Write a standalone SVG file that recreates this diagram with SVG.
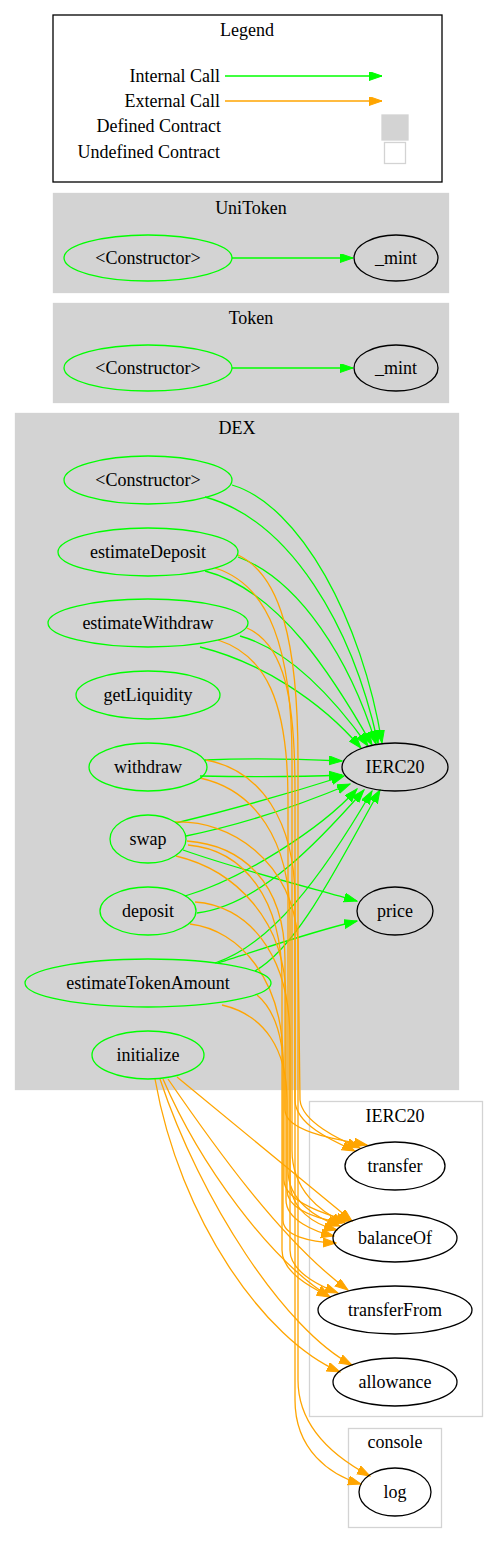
<svg xmlns="http://www.w3.org/2000/svg" width="498" height="1544" viewBox="0 0 498 1544" font-family="'Liberation Serif', 'Times New Roman', Times, serif" font-size="18">
<style>
text{font-family:'Liberation Serif','Times New Roman',Times,serif;font-size:18px;fill:#000}
.c{text-anchor:middle}
.r{text-anchor:end}
.def{fill:#d3d3d3;stroke:#d3d3d3;stroke-width:1.3}
.undef{fill:#fff;stroke:#d3d3d3;stroke-width:1.3}
.fn{fill:none;stroke:#00ff00;stroke-width:1.3}
.ext{fill:none;stroke:#000;stroke-width:1.3}
.g{fill:none;stroke:#00ff00;stroke-width:1.3;marker-end:url(#ag)}
.o{fill:none;stroke:#ffa500;stroke-width:1.3;marker-end:url(#ao)}
</style>
<defs>
<marker id="ag" markerUnits="userSpaceOnUse" markerWidth="14" markerHeight="10" refX="13" refY="4.5" orient="auto"><path d="M0,0 L13,4.5 L0,9 z" fill="#00ff00" stroke="#00ff00" stroke-width="1"/></marker>
<marker id="ao" markerUnits="userSpaceOnUse" markerWidth="14" markerHeight="10" refX="13" refY="4.5" orient="auto"><path d="M0,0 L13,4.5 L0,9 z" fill="#ffa500" stroke="#ffa500" stroke-width="1"/></marker>
</defs>
<rect width="498" height="1544" fill="#fff"/>

<g id="legend">
<rect x="53" y="15" width="389" height="167" fill="#fff" stroke="#000" stroke-width="1.3"/>
<text class="c" x="247" y="36">Legend</text>
<text class="r" x="220" y="82">Internal Call</text>
<text class="r" x="220" y="107">External Call</text>
<text class="r" x="221" y="132">Defined Contract</text>
<text class="r" x="220" y="158">Undefined Contract</text>
<line x1="225" y1="76" x2="382" y2="76" class="g"/>
<line x1="225" y1="101" x2="382" y2="101" class="o"/>
<rect x="382" y="115" width="26" height="25" class="def"/>
<rect x="384.5" y="142.5" width="21" height="21" class="undef"/>
</g>

<g id="cluster_UniToken">
<rect x="53.5" y="193.5" width="395" height="99" class="def"/>
<text class="c" x="251" y="214">UniToken</text>
</g>
<g id="cluster_Token">
<rect x="53.5" y="303.5" width="395" height="99" class="def"/>
<text class="c" x="251" y="324">Token</text>
</g>
<g id="cluster_DEX">
<rect x="15.5" y="413.5" width="443" height="676" class="def"/>
<text class="c" x="237" y="434">DEX</text>
</g>
<g id="cluster_IERC20">
<rect x="309.5" y="1101.5" width="173" height="315" class="undef"/>
<text class="c" x="395" y="1122">IERC20</text>
</g>
<g id="cluster_console">
<rect x="348.5" y="1428.5" width="93" height="99" class="undef"/>
<text class="c" x="395" y="1448">console</text>
</g>

<g id="connectors">
<path class="g" d="M232,258 L353,258"/>
<path class="g" d="M232,368 L353,368"/>

<path class="g" d="M232,485 C300,505 362,620 382,743"/>
<path class="g" d="M205,497 C290,520 352,625 378,743"/>
<path class="g" d="M238,557 C300,580 350,660 376,744"/>
<path class="g" d="M205,571 C280,590 335,680 372,745"/>
<path class="g" d="M240,636 C290,650 335,700 368,746"/>
<path class="g" d="M200,647 C260,662 320,700 361,748"/>
<path class="g" d="M205,760 C250,758 300,759 342,761"/>
<path class="g" d="M200,776 C250,777 300,777 342,775"/>
<path class="g" d="M176,823 C230,810 300,790 344,776"/>
<path class="g" d="M186,836 C240,825 300,805 350,784"/>
<path class="g" d="M183,850 C240,870 300,885 357,901"/>
<path class="g" d="M185,896 C240,880 320,830 357,789"/>
<path class="g" d="M197,913 C260,905 320,840 364,790"/>
<path class="g" d="M215,963 C270,945 320,880 372,791"/>
<path class="g" d="M255,971 C300,945 340,860 380,790"/>
<path class="g" d="M218,963 C260,950 310,932 357,921"/>

<path class="o" d="M238,555 C280,575 298,640 298,760 L298,1380 C298,1430 340,1460 370,1476"/>
<path class="o" d="M215,568 C270,585 292,650 292,760 L292,1150 C292,1190 320,1212 345,1223"/>
<path class="o" d="M247,628 C285,645 295,700 295,790 L295,1400 C295,1450 330,1475 361,1484"/>
<path class="o" d="M218,640 C265,655 288,700 288,800 L288,1170 C288,1200 315,1218 340,1226"/>
<path class="o" d="M206,760 C260,770 295,820 295,900 L295,1100 C295,1125 335,1142 355,1151"/>
<path class="o" d="M200,778 C255,790 290,840 290,920 L290,1180 C290,1210 315,1225 337,1230"/>
<path class="o" d="M175,822 C230,820 292,860 298,940 L300,1100 C302,1122 340,1140 360,1148"/>
<path class="o" d="M187,841 C240,845 285,880 285,960 L285,1110 C285,1132 340,1140 367,1145"/>
<path class="o" d="M188,845 C245,850 282,900 282,980 L282,1250 C282,1272 310,1287 330,1297"/>
<path class="o" d="M176,856 C235,870 286,920 286,1000 L286,1200 C286,1220 315,1232 334,1236"/>
<path class="o" d="M195,902 C245,905 290,950 290,1040 L290,1250 C290,1272 320,1286 338,1293"/>
<path class="o" d="M190,924 C240,930 283,980 283,1060 L283,1220 C283,1236 310,1242 336,1243"/>
<path class="o" d="M257,995 C275,1010 284,1040 284,1080 L284,1180 C284,1202 330,1216 350,1221"/>
<path class="o" d="M222,1005 C265,1015 287,1050 287,1100 L287,1190 C287,1212 325,1220 342,1223"/>
<path class="o" d="M177,1077 C220,1112 290,1170 352,1221"/>
<path class="o" d="M168,1079 C210,1140 280,1240 348,1290"/>
<path class="o" d="M163,1079 C200,1165 270,1260 330,1297"/>
<path class="o" d="M160,1079 C200,1200 285,1330 352,1365"/>
<path class="o" d="M155,1079 C180,1220 265,1340 340,1372"/>
</g>

<g id="UniToken_constructor"><ellipse cx="148" cy="258" rx="84" ry="23" class="fn"/><text class="c" x="148" y="264">&lt;Constructor&gt;</text></g>
<g id="UniToken_mint"><ellipse cx="396" cy="258" rx="42" ry="23" class="ext"/><text class="c" x="396" y="264">_mint</text></g>
<g id="Token_constructor"><ellipse cx="148" cy="368" rx="84" ry="23" class="fn"/><text class="c" x="148" y="374">&lt;Constructor&gt;</text></g>
<g id="Token_mint"><ellipse cx="396" cy="368" rx="42" ry="23" class="ext"/><text class="c" x="396" y="374">_mint</text></g>

<g id="DEX_constructor"><ellipse cx="148" cy="480" rx="84" ry="24" class="fn"/><text class="c" x="148" y="486">&lt;Constructor&gt;</text></g>
<g id="DEX_estimateDeposit"><ellipse cx="148" cy="552" rx="90" ry="24" class="fn"/><text class="c" x="148" y="558">estimateDeposit</text></g>
<g id="DEX_estimateWithdraw"><ellipse cx="148" cy="623" rx="100" ry="24" class="fn"/><text class="c" x="148" y="629">estimateWithdraw</text></g>
<g id="DEX_getLiquidity"><ellipse cx="148" cy="695" rx="72" ry="24" class="fn"/><text class="c" x="148" y="701">getLiquidity</text></g>
<g id="DEX_withdraw"><ellipse cx="148" cy="767" rx="59" ry="24" class="fn"/><text class="c" x="148" y="773">withdraw</text></g>
<g id="DEX_swap"><ellipse cx="148" cy="839" rx="38" ry="24" class="fn"/><text class="c" x="148" y="845">swap</text></g>
<g id="DEX_deposit"><ellipse cx="148" cy="911" rx="48" ry="24" class="fn"/><text class="c" x="148" y="917">deposit</text></g>
<g id="DEX_estimateTokenAmount"><ellipse cx="148" cy="983" rx="123" ry="24" class="fn"/><text class="c" x="148" y="989">estimateTokenAmount</text></g>
<g id="DEX_initialize"><ellipse cx="148" cy="1055" rx="56" ry="24" class="fn"/><text class="c" x="148" y="1061">initialize</text></g>
<g id="DEX_IERC20"><ellipse cx="395" cy="767" rx="53" ry="24" class="ext"/><text class="c" x="395" y="773">IERC20</text></g>
<g id="DEX_price"><ellipse cx="395" cy="911" rx="38" ry="24" class="ext"/><text class="c" x="395" y="917">price</text></g>

<g id="IERC20_transfer"><ellipse cx="395" cy="1166" rx="50" ry="24" class="ext"/><text class="c" x="395" y="1172">transfer</text></g>
<g id="IERC20_balanceOf"><ellipse cx="395" cy="1238" rx="62" ry="24" class="ext"/><text class="c" x="395" y="1244">balanceOf</text></g>
<g id="IERC20_transferFrom"><ellipse cx="395" cy="1310" rx="77" ry="24" class="ext"/><text class="c" x="395" y="1316">transferFrom</text></g>
<g id="IERC20_allowance"><ellipse cx="395" cy="1382" rx="62" ry="24" class="ext"/><text class="c" x="395" y="1388">allowance</text></g>
<g id="console_log"><ellipse cx="395" cy="1492" rx="36" ry="24" class="ext"/><text class="c" x="395" y="1498">log</text></g>
</svg>
